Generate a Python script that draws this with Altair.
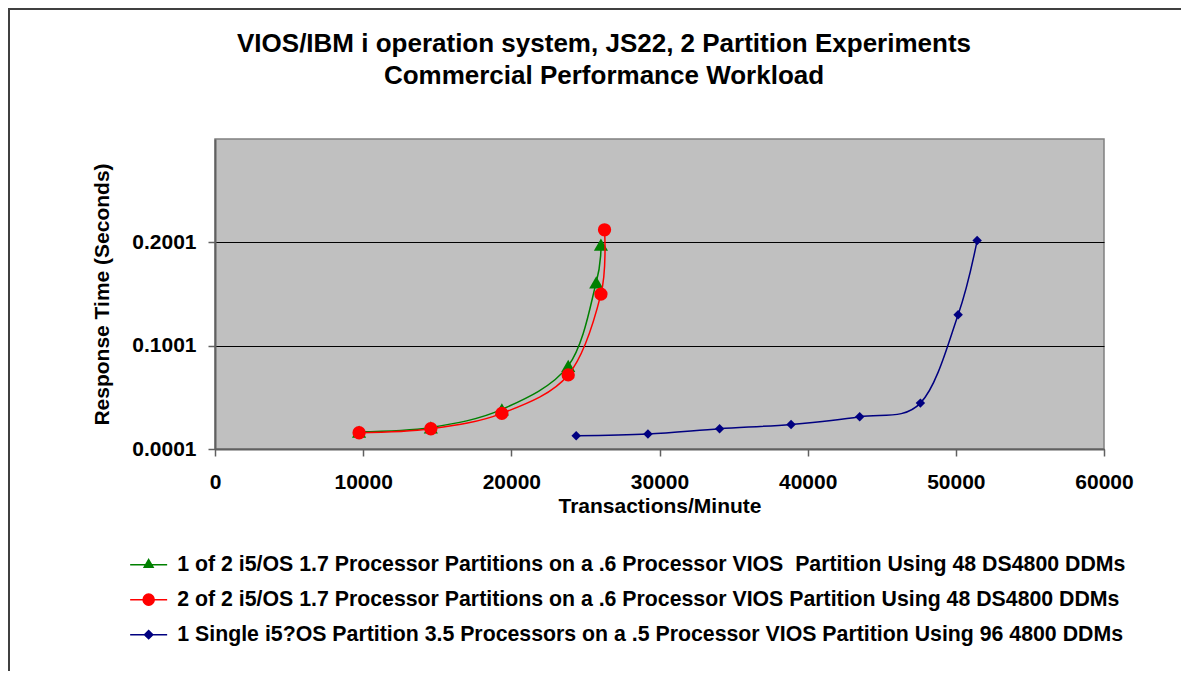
import altair as alt
import pandas as pd

FONT = "Liberation Sans"

title_lines = ["VIOS/IBM i operation system, JS22, 2 Partition Experiments", "Commercial Performance Workload"]

series_names = [
    "1 of 2 i5/OS 1.7 Processor Partitions on a .6 Processor VIOS\u00a0 Partition Using 48 DS4800 DDMs",
    "2 of 2 i5/OS 1.7 Processor Partitions on a .6 Processor VIOS Partition Using 48 DS4800 DDMs",
    "1 Single i5?OS Partition 3.5 Processors on a .5 Processor VIOS Partition Using 96 4800 DDMs",
]
series_colors = ["#008000", "#FF0000", "#000080"]
marker_shapes = ["triangle-up", "circle", "diamond"]
marker_sizes = [200, 177, 90]
legend_paths = [
    "M-2,0H2M0,-0.55L0.48,0.28L-0.48,0.28Z",
    "M-2,0H2M-0.6,0A0.6,0.6,0,1,1,0.6,0A0.6,0.6,0,1,1,-0.6,0Z",
    "M-2,0H2M0,-0.45L0.45,0L0,0.45L-0.45,0Z",
]

green_x = [9724, 14567, 19361, 23839, 25730, 26047]
green_y = [0.0168, 0.0210, 0.0384, 0.0805, 0.1613, 0.1980]
red_x = [9724, 14567, 19361, 23839, 26047, 26290]
red_y = [0.0158, 0.0197, 0.0346, 0.0718, 0.1500, 0.2122]
blue_x = [24379, 29221, 34056, 38878, 43510, 47609, 50155, 51438]
blue_y = [0.0129, 0.0146, 0.0197, 0.0239, 0.0313, 0.0445, 0.1301, 0.2018]

x_ticks = [0, 10000, 20000, 30000, 40000, 50000, 60000]
y_ticks = [0.0001, 0.1001, 0.2001]

frames = []
for name, xs, ys in zip(series_names, [green_x, red_x, blue_x], [green_y, red_y, blue_y]):
    frames.append(pd.DataFrame({"series": name, "tpm": xs, "resp": ys}))
df = pd.concat(frames, ignore_index=True)

x_enc = alt.X(
    "tpm:Q",
    scale=alt.Scale(domain=[0, 60000], nice=False, zero=False),
    axis=alt.Axis(values=x_ticks, format="d", title="Transactions/Minute", grid=False,
                  labelPadding=15, titleY=63, titleBaseline="alphabetic"),
)
y_enc = alt.Y(
    "resp:Q",
    scale=alt.Scale(domain=[0.0001, 0.3001], nice=False, zero=False),
    axis=alt.Axis(values=y_ticks, format=".4f", title="Response Time (Seconds)", grid=True,
                  labelPadding=12, titleX=-113, titleY=155, titleBaseline="middle", titleAngle=270),
)

# outer chart frame: only its left and top edges fall inside the visible page
frame_left = alt.Chart(pd.DataFrame({"k": [0]})).mark_rule(
    stroke="#404040", strokeWidth=2
).encode(x=alt.value(-206), y=alt.value(-131), y2=alt.value(540))
frame_top = alt.Chart(pd.DataFrame({"k": [0]})).mark_rule(
    stroke="#404040", strokeWidth=2
).encode(x=alt.value(-207), x2=alt.value(980), y=alt.value(-130))

title_df = pd.DataFrame({"line": title_lines})
title1 = alt.Chart(title_df).transform_filter(alt.datum.line == title_lines[0]).mark_text(
    font=FONT, fontSize=26, fontWeight="bold", color="black", align="center", baseline="alphabetic"
).encode(text="line:N", x=alt.value(389), y=alt.value(-87))
title2 = alt.Chart(title_df).transform_filter(alt.datum.line == title_lines[1]).mark_text(
    font=FONT, fontSize=26, fontWeight="bold", color="black", align="center", baseline="alphabetic"
).encode(text="line:N", x=alt.value(389), y=alt.value(-55))

# legend-only layer: no rows survive the filter, the legend comes from the explicit scale domain
legend_layer = alt.Chart(df).transform_filter(alt.datum.tpm < 0).mark_point(filled=True, opacity=1).encode(
    x=x_enc,
    y=y_enc,
    fill=alt.Fill("series:N", scale=alt.Scale(domain=series_names, range=series_colors),
                  legend=alt.Legend(title=None)),
    stroke=alt.Stroke("series:N", scale=alt.Scale(domain=series_names, range=series_colors),
                      legend=alt.Legend(title=None)),
    shape=alt.Shape("series:N", scale=alt.Scale(domain=series_names, range=legend_paths),
                    legend=alt.Legend(title=None)),
)

layers = [frame_left, frame_top, title1, title2, legend_layer]
for name, col, shp, sz in zip(series_names, series_colors, marker_shapes, marker_sizes):
    sub = alt.Chart(df).transform_filter(alt.datum.series == name)
    layers.append(sub.mark_line(color=col, strokeWidth=1.5, interpolate="cardinal").encode(
        x=x_enc, y=y_enc, order="tpm:Q"))
    layers.append(sub.mark_point(filled=True, color=col, shape=shp, size=sz, opacity=1).encode(
        x=x_enc, y=y_enc))

chart = alt.layer(*layers).properties(
    width=889,
    height=310,
    padding={"left": 207, "top": 131, "right": 77, "bottom": 222},
    autosize=alt.AutoSizeParams(type="none"),
).configure_view(
    fill="#C0C0C0", stroke="#808080", strokeWidth=1.5
).configure_axis(
    labelFont=FONT, labelFontSize=21, labelFontWeight="bold", labelColor="black",
    titleFont=FONT, titleFontSize=21, titleFontWeight="bold", titleColor="black",
    domainColor="#606060", domainWidth=2, tickColor="#606060", tickWidth=1.5, tickSize=7,
    gridColor="black", gridWidth=1, labelFlush=False, labelOverlap=False,
).configure_legend(
    orient="none", legendX=-77, legendY=415, padding=0, direction="vertical",
    labelFont=FONT, labelFontSize=21.3, labelFontWeight="bold", labelColor="black", labelLimit=0,
    symbolSize=342, symbolStrokeWidth=1.5, rowPadding=13, labelOffset=18,
)

chart.save("out.html", embed_options={"renderer": "svg", "actions": False})
